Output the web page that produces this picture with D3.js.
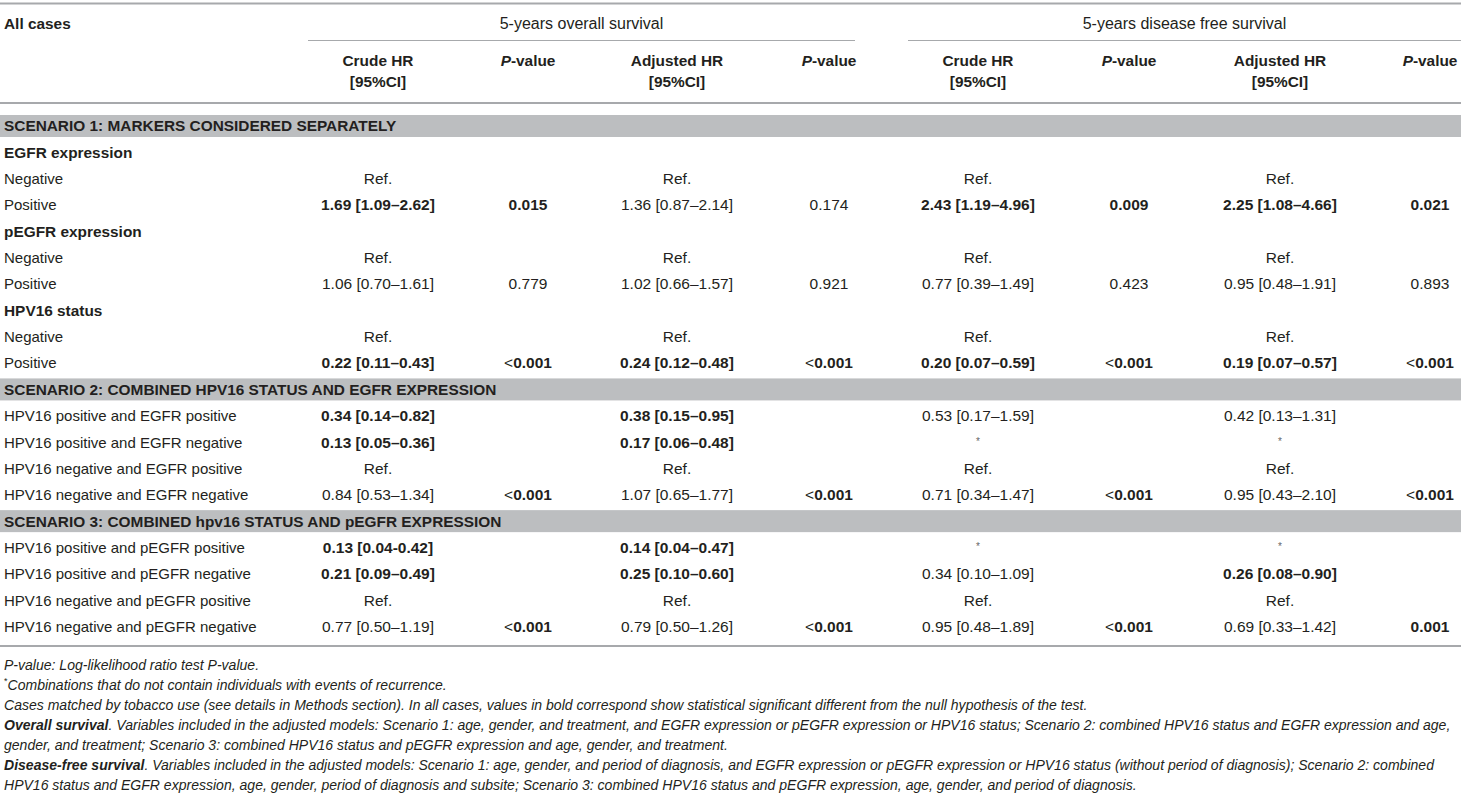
<!DOCTYPE html>
<html>
<head>
<meta charset="utf-8">
<script src="https://cdn.jsdelivr.net/npm/d3@7"></script>
<style>
  html, body { margin: 0; padding: 0; background: #fff; }
  svg { display: block; font-family: "Liberation Sans", Arial, Helvetica, sans-serif; }
</style>
</head>
<body>
<svg id="chart" width="1461" height="797"></svg>
<script>
// ---------- DATA ----------
const groupHeaders = ["5-years overall survival", "5-years disease free survival"];
const columnKeys = ["osCrude", "osCrudeP", "osAdj", "osAdjP", "dfsCrude", "dfsCrudeP", "dfsAdj", "dfsAdjP"];
const columnHeaders = [
  ["Crude HR", "[95%CI]"], ["P-value"], ["Adjusted HR", "[95%CI]"], ["P-value"],
  ["Crude HR", "[95%CI]"], ["P-value"], ["Adjusted HR", "[95%CI]"], ["P-value"]
];

const rowLabels = [
  "SCENARIO 1: MARKERS CONSIDERED SEPARATELY",
  "EGFR expression", "Negative", "Positive",
  "pEGFR expression", "Negative", "Positive",
  "HPV16 status", "Negative", "Positive",
  "SCENARIO 2: COMBINED HPV16 STATUS AND EGFR EXPRESSION",
  "HPV16 positive and EGFR positive", "HPV16 positive and EGFR negative",
  "HPV16 negative and EGFR positive", "HPV16 negative and EGFR negative",
  "SCENARIO 3: COMBINED hpv16 STATUS AND pEGFR EXPRESSION",
  "HPV16 positive and pEGFR positive", "HPV16 positive and pEGFR negative",
  "HPV16 negative and pEGFR positive", "HPV16 negative and pEGFR negative"
];
const rowKinds = [
  "band", "group", "row", "row", "group", "row", "row", "group", "row", "row",
  "band", "row", "row", "row", "row",
  "band", "row", "row", "row", "row"
];

const osCrude   = ["", "", "Ref.", "1.69 [1.09–2.62]", "", "Ref.", "1.06 [0.70–1.61]", "", "Ref.", "0.22 [0.11–0.43]",
                   "", "0.34 [0.14–0.82]", "0.13 [0.05–0.36]", "Ref.", "0.84 [0.53–1.34]",
                   "", "0.13 [0.04-0.42]", "0.21 [0.09–0.49]", "Ref.", "0.77 [0.50–1.19]"];
const osCrudeP  = ["", "", "", "0.015", "", "", "0.779", "", "", "<0.001",
                   "", "", "", "", "<0.001", "", "", "", "", "<0.001"];
const osAdj     = ["", "", "Ref.", "1.36 [0.87–2.14]", "", "Ref.", "1.02 [0.66–1.57]", "", "Ref.", "0.24 [0.12–0.48]",
                   "", "0.38 [0.15–0.95]", "0.17 [0.06–0.48]", "Ref.", "1.07 [0.65–1.77]",
                   "", "0.14 [0.04–0.47]", "0.25 [0.10–0.60]", "Ref.", "0.79 [0.50–1.26]"];
const osAdjP    = ["", "", "", "0.174", "", "", "0.921", "", "", "<0.001",
                   "", "", "", "", "<0.001", "", "", "", "", "<0.001"];
const dfsCrude  = ["", "", "Ref.", "2.43 [1.19–4.96]", "", "Ref.", "0.77 [0.39–1.49]", "", "Ref.", "0.20 [0.07–0.59]",
                   "", "0.53 [0.17–1.59]", "*", "Ref.", "0.71 [0.34–1.47]",
                   "", "*", "0.34 [0.10–1.09]", "Ref.", "0.95 [0.48–1.89]"];
const dfsCrudeP = ["", "", "", "0.009", "", "", "0.423", "", "", "<0.001",
                   "", "", "", "", "<0.001", "", "", "", "", "<0.001"];
const dfsAdj    = ["", "", "Ref.", "2.25 [1.08–4.66]", "", "Ref.", "0.95 [0.48–1.91]", "", "Ref.", "0.19 [0.07–0.57]",
                   "", "0.42 [0.13–1.31]", "*", "Ref.", "0.95 [0.43–2.10]",
                   "", "*", "0.26 [0.08–0.90]", "Ref.", "0.69 [0.33–1.42]"];
const dfsAdjP   = ["", "", "", "0.021", "", "", "0.893", "", "", "<0.001",
                   "", "", "", "", "<0.001", "", "", "", "", "0.001"];

// rows (indices) whose value is statistically significant (shown bold)
const significantRows = {
  osCrude:   [3, 9, 11, 12, 16, 17],
  osCrudeP:  [3, 9, 14, 19],
  osAdj:     [9, 11, 12, 16, 17],
  osAdjP:    [9, 14, 19],
  dfsCrude:  [3, 9],
  dfsCrudeP: [3, 9, 14, 19],
  dfsAdj:    [3, 9, 17],
  dfsAdjP:   [3, 9, 14, 19]
};

const footnotes = [
  [{t: "P-value: Log-likelihood ratio test P-value."}],
  [{t: "*", sup: true}, {t: "Combinations that do not contain individuals with events of recurrence."}],
  [{t: "Cases matched by tobacco use (see details in Methods section). In all cases, values in bold correspond show statistical significant different from the null hypothesis of the test."}],
  [{t: "Overall survival", b: true}, {t: ". Variables included in the adjusted models: Scenario 1: age, gender, and treatment, and EGFR expression or pEGFR expression or HPV16 status; Scenario 2: combined HPV16 status and EGFR expression and age,"}],
  [{t: "gender, and treatment; Scenario 3: combined HPV16 status and pEGFR expression and age, gender, and treatment."}],
  [{t: "Disease-free survival", b: true}, {t: ". Variables included in the adjusted models: Scenario 1: age, gender, and period of diagnosis, and EGFR expression or pEGFR expression or HPV16 status (without period of diagnosis); Scenario 2: combined"}],
  [{t: "HPV16 status and EGFR expression, age, gender, period of diagnosis and subsite; Scenario 3: combined HPV16 status and pEGFR expression, age, gender, and period of diagnosis."}]
];

const columns = {osCrude, osCrudeP, osAdj, osAdjP, dfsCrude, dfsCrudeP, dfsAdj, dfsAdjP};

// ---------- DRAW ----------
const W = 1461;
const svg = d3.select("#chart");
const TXT = "#231f20";
const LINE = "#a7a9ac";
const BAND = "#bcbec0";
const FS_BOLD = 15.4;   // bold labels / headers
const FS_LABEL = 15;    // regular row labels
const FS_VAL = 15.5;    // cell values

const x = d3.scaleOrdinal().domain(columnKeys).range([378, 528, 677, 829, 978, 1129, 1280, 1430]);
const groupX = d3.scaleOrdinal().domain(groupHeaders).range([[308, 855], [908, W]]);
const y = d3.scalePoint().domain(d3.range(rowLabels.length)).range([126, 626.5]);

// top rule
svg.append("line").attr("x1", 0).attr("x2", W).attr("y1", 3.5).attr("y2", 3.5)
  .attr("stroke", LINE).attr("stroke-width", 2);

// header: All cases
svg.append("text").attr("x", 4).attr("y", 28.5).attr("font-size", FS_BOLD).attr("font-weight", "bold")
  .attr("fill", TXT).text("All cases");

// group headers
groupHeaders.forEach(g => {
  const [a, b] = groupX(g);
  svg.append("text").attr("x", (a + b) / 2).attr("y", 28.5).attr("text-anchor", "middle")
    .attr("font-size", 16).attr("fill", TXT).text(g);
  svg.append("line").attr("x1", a).attr("x2", b).attr("y1", 40.5).attr("y2", 40.5)
    .attr("stroke", LINE).attr("stroke-width", 1.2);
});

// column headers
columnKeys.forEach((k, i) => {
  const lines = columnHeaders[i];
  lines.forEach((ln, j) => {
    const t = svg.append("text").attr("x", x(k)).attr("y", 66 + j * 20.5).attr("text-anchor", "middle")
      .attr("font-size", FS_BOLD).attr("font-weight", "bold").attr("fill", TXT);
    if (ln.startsWith("P-")) {
      t.append("tspan").attr("font-style", "italic").text("P");
      t.append("tspan").text(ln.slice(1));
    } else t.text(ln);
  });
});

svg.append("line").attr("x1", 0).attr("x2", W).attr("y1", 103).attr("y2", 103)
  .attr("stroke", LINE).attr("stroke-width", 2);

// bands
rowLabels.forEach((lab, i) => {
  if (rowKinds[i] === "band") {
    svg.append("rect").attr("x", 0).attr("width", W).attr("y", y(i) - 11).attr("height", 22).attr("fill", BAND);
  }
});

// row labels
rowLabels.forEach((lab, i) => {
  const kind = rowKinds[i];
  svg.append("text").attr("x", 4).attr("y", y(i) + 5.4)
    .attr("font-size", kind === "row" ? FS_LABEL : FS_BOLD)
    .attr("font-weight", kind === "row" ? "normal" : "bold").attr("fill", TXT).text(lab);
});

// cells
columnKeys.forEach(k => {
  const vals = columns[k];
  const sig = new Set(significantRows[k]);
  vals.forEach((v, i) => {
    if (!v) return;
    if (v === "*") {
      svg.append("text").attr("x", x(k)).attr("y", y(i) + 3).attr("text-anchor", "middle")
        .attr("font-size", 10).attr("fill", "#666").text("*");
      return;
    }
    const t = svg.append("text").attr("x", x(k)).attr("y", y(i) + 5.4).attr("text-anchor", "middle")
      .attr("font-size", FS_VAL).attr("fill", TXT).attr("font-weight", sig.has(i) ? "bold" : "normal");
    if (v.startsWith("<")) {
      t.append("tspan").attr("font-weight", "normal").text("<");
      t.append("tspan").text(v.slice(1));
    } else t.text(v);
  });
});

// bottom rule
svg.append("line").attr("x1", 0).attr("x2", W).attr("y1", 646).attr("y2", 646)
  .attr("stroke", LINE).attr("stroke-width", 2);

// footnotes
const fy = d3.scaleLinear().domain([0, footnotes.length - 1]).range([669.5, 790]);
const fnNodes = footnotes.map((parts, i) => {
  const t = svg.append("text").attr("x", 4).attr("y", fy(i)).attr("font-size", 14)
    .attr("font-style", "italic").attr("fill", TXT);
  parts.forEach(p => {
    const s = t.append("tspan").text(p.t);
    if (p.b) s.attr("font-weight", "bold");
    if (p.sup) s.attr("font-size", 9).attr("dy", -6).attr("font-style", "normal");
    else if (parts[0].sup) s.attr("dy", 6);
  });
  return t;
});
// fit footnote font size so the full-width line ends at the right margin
const natural = fnNodes[3].node().getComputedTextLength();
const fnSize = 14 * 1448 / natural;
fnNodes.forEach(t => t.attr("font-size", fnSize));
</script>
</body>
</html>
